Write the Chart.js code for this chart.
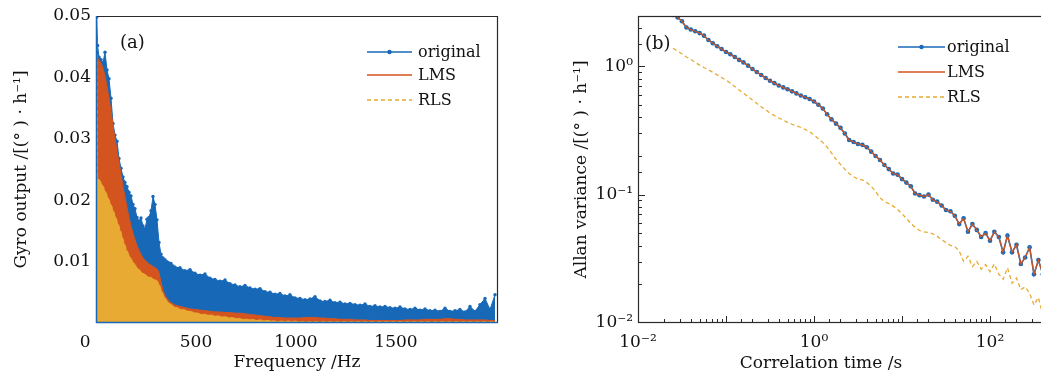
<!DOCTYPE html>
<html>
<head>
<meta charset="utf-8">
<title>Gyro output spectrum and Allan variance</title>
<script src="https://cdn.jsdelivr.net/npm/chart.js@4.4.1/dist/chart.umd.min.js"></script>
<style>
  html, body { margin: 0; padding: 0; background: #fff; overflow: hidden; }
  #wrap { position: relative; width: 1041px; height: 376px; overflow: hidden; }
  #spectrum { position: absolute; left: 0; top: 0; }
  #allan { position: absolute; left: 540px; top: 0; }
</style>
</head>
<body>
<div id="wrap">
  <canvas id="spectrum" width="520" height="376"></canvas>
  <canvas id="allan" width="550" height="376"></canvas>
</div>
<script>
// (a) spectrum: frequency axis (Hz) and envelope of each series
const freqHz = [3, 8, 15, 25, 35, 45, 55, 65, 75, 85, 95, 105, 115, 125, 135, 145, 155, 165, 175, 185,
  195, 205, 215, 225, 235, 245, 255, 265, 275, 285, 295, 305, 315, 325, 335, 345, 355, 365, 375, 385, 395,
  420, 445, 470, 495, 520, 545, 570, 595, 620, 645, 670, 695, 720, 745, 770, 795, 820, 845, 870, 895,
  920, 945, 970, 995, 1020, 1045, 1070, 1095, 1120, 1145, 1170, 1195, 1220, 1245, 1270, 1295, 1320, 1345, 1370, 1395,
  1420, 1445, 1470, 1495, 1520, 1545, 1570, 1595, 1620, 1645, 1670, 1695, 1720, 1745, 1770, 1795, 1820, 1845, 1870, 1895,
  1920, 1945, 1970, 1995];

const specOriginal = [0.0498, 0.0452, 0.0433, 0.0429, 0.0424, 0.0441, 0.0412, 0.0398, 0.0366, 0.0325, 0.0306, 0.0296, 0.0268, 0.0252, 0.0238, 0.0229, 0.0222, 0.0213, 0.0207, 0.0193,
  0.0186, 0.0172, 0.0166, 0.0171, 0.0158, 0.0153, 0.0169, 0.0172, 0.0183, 0.0206, 0.0193, 0.0168, 0.0131, 0.0112, 0.0106, 0.0103, 0.0100, 0.0098, 0.0097, 0.0093, 0.0091,
  0.0090, 0.0085, 0.0087, 0.0081, 0.0078, 0.0080, 0.0073, 0.0071, 0.0068, 0.0070, 0.0064, 0.0062, 0.0059, 0.0061, 0.0057, 0.0055, 0.0056, 0.0051, 0.0050, 0.0047,
  0.0048, 0.0044, 0.0046, 0.0041, 0.0040, 0.0038, 0.0039, 0.0043, 0.0036, 0.0035, 0.0037, 0.0033, 0.0034, 0.0031, 0.0032, 0.0030, 0.0029, 0.0031, 0.0027, 0.0028,
  0.0026, 0.0027, 0.0025, 0.0024, 0.0026, 0.0023, 0.0022, 0.0024, 0.0021, 0.0023, 0.0020, 0.0021, 0.0019, 0.0024, 0.0019, 0.0020, 0.0022, 0.0018, 0.0027, 0.0019,
  0.0030, 0.0040, 0.0022, 0.0046];

const specLms = [0.0435, 0.0432, 0.0428, 0.0424, 0.0415, 0.0402, 0.0385, 0.0366, 0.0345, 0.0322, 0.0300, 0.0281, 0.0262, 0.0242, 0.0222, 0.0205, 0.0188, 0.0172, 0.0158, 0.0146,
  0.0135, 0.0126, 0.0118, 0.0112, 0.0106, 0.0102, 0.0099, 0.0096, 0.0094, 0.0092, 0.0090, 0.0088, 0.0082, 0.0066, 0.0053, 0.0045, 0.0040, 0.0036, 0.0033, 0.0031, 0.0029,
  0.0027, 0.0025, 0.0023, 0.0022, 0.0021, 0.0020, 0.0019, 0.0018, 0.0018, 0.0017, 0.0017, 0.0016, 0.0016, 0.0015, 0.0014, 0.0013, 0.0012, 0.0011, 0.0010, 0.0009,
  0.0009, 0.0008, 0.0008, 0.0008, 0.0008, 0.0009, 0.0009, 0.0009, 0.0008, 0.0008, 0.0007, 0.0007, 0.0006, 0.0006, 0.0006, 0.0005, 0.0005, 0.0005, 0.0004, 0.0004,
  0.0004, 0.0004, 0.0004, 0.0004, 0.0004, 0.0005, 0.0005, 0.0005, 0.0005, 0.0006, 0.0006, 0.0006, 0.0006, 0.0007, 0.0007, 0.0006, 0.0006, 0.0005, 0.0005, 0.0005,
  0.0005, 0.0005, 0.0004, 0.0004];

const specRls = [0.0495, 0.0236, 0.0234, 0.0229, 0.0223, 0.0216, 0.0209, 0.0201, 0.0193, 0.0185, 0.0176, 0.0167, 0.0158, 0.0148, 0.0137, 0.0127, 0.0118, 0.0111, 0.0105, 0.0100,
  0.0095, 0.0091, 0.0087, 0.0084, 0.0081, 0.0079, 0.0077, 0.0075, 0.0074, 0.0072, 0.0071, 0.0069, 0.0064, 0.0055, 0.0047, 0.0041, 0.0036, 0.0033, 0.0030, 0.0028, 0.0026,
  0.0023, 0.0021, 0.0019, 0.0017, 0.0015, 0.0014, 0.0013, 0.0012, 0.0011, 0.0010, 0.0009, 0.0008, 0.0007, 0.0006, 0.0006, 0.0005, 0.0005, 0.0004, 0.0004, 0.0003,
  0.0003, 0.0003, 0.0003, 0.0003, 0.0002, 0.0002, 0.0002, 0.0002, 0.0002, 0.0002, 0.0002, 0.0002, 0.0002, 0.0002, 0.0002, 0.0002, 0.0002, 0.0002, 0.0002, 0.0002,
  0.0002, 0.0002, 0.0002, 0.0002, 0.0002, 0.0002, 0.0002, 0.0002, 0.0002, 0.0002, 0.0002, 0.0002, 0.0002, 0.0002, 0.0002, 0.0002, 0.0002, 0.0002, 0.0002, 0.0002,
  0.0002, 0.0002, 0.0002, 0.0002];

const freqTicks = [0, 500, 1000, 1500];

// (b) Allan variance: correlation time (s) and values
const tauS = [0.0251, 0.0282, 0.0316, 0.0355, 0.0398, 0.0447, 0.0501, 0.0562, 0.0631, 0.0708,
  0.0794, 0.0891, 0.100, 0.112, 0.126, 0.141, 0.158, 0.178, 0.200, 0.224,
  0.251, 0.282, 0.316, 0.355, 0.398, 0.447, 0.501, 0.562, 0.631, 0.708,
  0.794, 0.891, 1.00, 1.12, 1.26, 1.41, 1.58, 1.78, 2.00, 2.24,
  2.51, 2.82, 3.16, 3.55, 3.98, 4.47, 5.01, 5.62, 6.31, 7.08,
  7.94, 8.91, 10.0, 11.2, 12.6, 14.1, 15.8, 17.8, 20.0, 22.4,
  25.1, 28.2, 31.6, 35.5, 39.8, 44.7, 50.1, 56.2, 63.1, 70.8,
  79.4, 89.1, 100, 112, 126, 141, 158, 178, 200, 224,
  251, 282, 316, 355, 398];

const allanOriginal = [2.51, 2.40, 2.24, 2.00, 1.93, 1.87, 1.81, 1.73, 1.60, 1.51,
  1.43, 1.36, 1.29, 1.24, 1.18, 1.12, 1.07, 1.01, 0.95, 0.90,
  0.855, 0.81, 0.77, 0.738, 0.708, 0.684, 0.661, 0.637, 0.614, 0.592,
  0.573, 0.555, 0.531, 0.501, 0.468, 0.422, 0.385, 0.357, 0.331, 0.299,
  0.266, 0.257, 0.248, 0.244, 0.234, 0.216, 0.200, 0.186, 0.170, 0.158,
  0.146, 0.143, 0.132, 0.124, 0.116, 0.102, 0.099, 0.0966, 0.100, 0.0912,
  0.0881, 0.0822, 0.0759, 0.0741, 0.0684, 0.0589, 0.0653, 0.0513, 0.0589, 0.0531,
  0.0468, 0.0501, 0.0437, 0.0513, 0.0468, 0.0355, 0.0479, 0.0355, 0.0407, 0.0288,
  0.0324, 0.0389, 0.0240, 0.0309, 0.0240];

const allanLms = [2.51, 2.40, 2.24, 2.00, 1.93, 1.87, 1.81, 1.73, 1.60, 1.51,
  1.43, 1.36, 1.29, 1.24, 1.18, 1.12, 1.07, 1.01, 0.95, 0.90,
  0.855, 0.81, 0.77, 0.738, 0.708, 0.684, 0.661, 0.637, 0.614, 0.592,
  0.573, 0.555, 0.531, 0.501, 0.468, 0.422, 0.385, 0.357, 0.331, 0.299,
  0.266, 0.257, 0.248, 0.244, 0.234, 0.216, 0.200, 0.186, 0.170, 0.158,
  0.146, 0.143, 0.132, 0.124, 0.116, 0.102, 0.099, 0.0966, 0.100, 0.0912,
  0.0881, 0.0822, 0.0759, 0.0741, 0.0684, 0.0589, 0.0653, 0.0513, 0.0589, 0.0531,
  0.0468, 0.0501, 0.0437, 0.0513, 0.0468, 0.0355, 0.0479, 0.0355, 0.0407, 0.0288,
  0.0324, 0.0389, 0.0240, 0.0309, 0.0240];

const allanRls = [1.38, 1.31, 1.245, 1.18, 1.127, 1.07, 1.02, 0.977, 0.938, 0.897,
  0.855, 0.817, 0.780, 0.738, 0.695, 0.653, 0.617, 0.579, 0.546, 0.513,
  0.484, 0.457, 0.432, 0.412, 0.395, 0.380, 0.365, 0.353, 0.343, 0.333,
  0.322, 0.309, 0.292, 0.272, 0.254, 0.234, 0.211, 0.188, 0.172, 0.158,
  0.146, 0.138, 0.132, 0.130, 0.124, 0.116, 0.106, 0.0944, 0.0881, 0.0851,
  0.0813, 0.0767, 0.0708, 0.0653, 0.0596, 0.0556, 0.0525, 0.0513, 0.0507, 0.0495,
  0.0473, 0.0447, 0.0422, 0.0403, 0.0394, 0.0363, 0.0302, 0.0331, 0.0275, 0.0302,
  0.0263, 0.0285, 0.0251, 0.0288, 0.0240, 0.0219, 0.0269, 0.0204, 0.0224, 0.0182,
  0.0191, 0.0170, 0.0138, 0.0158, 0.0115];

const COLORS = {
  original: '#1769B8',
  lms: '#D4541F',
  rls: '#E8AA33',
  frame: '#2a2a2a',
  text: '#111'
};
const FONT = '"DejaVu Serif", "Liberation Serif", serif';
const SUP = { '-': '\u207B', '0': '\u2070', '1': '\u00B9', '2': '\u00B2', '3': '\u00B3' };

function toPoints(xs, ys) {
  return xs.map((x, i) => ({ x: x, y: ys[i] }));
}

function isDecade(v) {
  const e = Math.log10(v);
  return Math.abs(e - Math.round(e)) < 1e-6;
}

function powerLabel(v) {
  const e = String(Math.round(Math.log10(v)));
  return '10' + e.split('').map(c => SUP[c]).join('');
}

function strokeLine(ctx, x0, y0, x1, y1) {
  ctx.beginPath();
  ctx.moveTo(x0, y0);
  ctx.lineTo(x1, y1);
  ctx.stroke();
}

// legend drawn inside the plot area, styled from the datasets
function drawLegend(chart, o) {
  const { ctx, chartArea: a } = chart;
  ctx.save();
  ctx.font = '16px ' + FONT;
  ctx.textBaseline = 'middle';
  ctx.fillStyle = COLORS.text;
  chart.data.datasets.forEach((ds, i) => {
    const y = a.top + o.rows[i];
    const x0 = a.right - o.lineFrom;
    const x1 = a.right - o.lineTo;
    ctx.strokeStyle = ds.borderColor;
    ctx.lineWidth = 1.5;
    ctx.setLineDash(ds.borderDash || []);
    strokeLine(ctx, x0, y, x1, y);
    ctx.setLineDash([]);
    if (ds.legendMarker) {
      ctx.fillStyle = ds.borderColor;
      ctx.beginPath();
      ctx.arc((x0 + x1) / 2, y, 2.2, 0, Math.PI * 2);
      ctx.fill();
      ctx.fillStyle = COLORS.text;
    }
    ctx.fillText(ds.label, a.right - o.textAt, y + 1);
  });
  ctx.restore();
}

const spectrumPlugin = {
  id: 'spectrumDecor',
  afterDatasetsDraw(chart) {
    const { ctx, chartArea: a } = chart;
    ctx.save();
    ctx.lineWidth = 1.2;
    ctx.strokeStyle = COLORS.frame;
    strokeLine(ctx, a.left, a.top + 0.5, a.right, a.top + 0.5);
    strokeLine(ctx, a.right - 0.5, a.top, a.right - 0.5, a.bottom);
    ctx.strokeStyle = COLORS.original;
    ctx.lineWidth = 1.5;
    strokeLine(ctx, a.left + 0.5, a.top, a.left + 0.5, a.bottom);
    strokeLine(ctx, a.left, a.bottom - 0.5, a.right, a.bottom - 0.5);
    ctx.font = '18px ' + FONT;
    ctx.fillStyle = COLORS.text;
    ctx.textBaseline = 'middle';
    ctx.fillText('(a)', a.left + 24, a.top + 27);
    ctx.restore();
    drawLegend(chart, { rows: [36, 59, 84], lineFrom: 131, lineTo: 86, textAt: 80 });
  }
};

const allanPlugin = {
  id: 'allanDecor',
  afterDatasetsDraw(chart) {
    const { ctx, chartArea: a, scales } = chart;
    ctx.save();
    ctx.strokeStyle = COLORS.frame;
    ctx.lineWidth = 1.2;
    ctx.strokeRect(a.left + 0.5, a.top + 0.5, a.right - a.left - 1, a.bottom - a.top - 1);
    ctx.lineWidth = 1;
    scales.x.ticks.forEach(t => {
      const px = Math.round(scales.x.getPixelForValue(t.value)) + 0.5;
      if (px <= a.left + 1 || px >= a.right - 1) return;
      strokeLine(ctx, px, a.bottom, px, a.bottom - (isDecade(t.value) ? 7 : 4));
    });
    scales.y.ticks.forEach(t => {
      const py = Math.round(scales.y.getPixelForValue(t.value)) + 0.5;
      if (py <= a.top + 1 || py >= a.bottom - 1) return;
      strokeLine(ctx, a.left, py, a.left + (isDecade(t.value) ? 7 : 4), py);
    });
    ctx.font = '18px ' + FONT;
    ctx.fillStyle = COLORS.text;
    ctx.textBaseline = 'middle';
    ctx.fillText('(b)', a.left + 7, a.top + 28);
    // x title sits left of centre in the original figure
    ctx.font = '17px ' + FONT;
    ctx.textAlign = 'center';
    ctx.fillText('Correlation time /s', a.left + 183, 364);
    ctx.restore();
    drawLegend(chart, { rows: [31, 56, 81], lineFrom: 180, lineTo: 133, textAt: 131 });
  }
};

const tickFont = { family: FONT, size: 17 };
const titleFont = { family: FONT, size: 17 };

new Chart(document.getElementById('spectrum'), {
  type: 'line',
  data: {
    datasets: [{
      label: 'original',
      data: toPoints(freqHz, specOriginal),
      borderColor: COLORS.original,
      backgroundColor: COLORS.original,
      borderWidth: 1,
      pointRadius: 1.7,
      pointBorderWidth: 0,
      pointBackgroundColor: COLORS.original,
      fill: 'origin',
      legendMarker: true,
      order: 3
    }, {
      label: 'LMS',
      data: toPoints(freqHz, specLms),
      borderColor: COLORS.lms,
      backgroundColor: COLORS.lms,
      borderWidth: 1,
      pointRadius: 0,
      fill: 'origin',
      order: 2
    }, {
      label: 'RLS',
      data: toPoints(freqHz, specRls),
      borderColor: COLORS.rls,
      backgroundColor: COLORS.rls,
      borderWidth: 1,
      borderDash: [4, 3],
      pointRadius: 0,
      fill: 'origin',
      order: 1
    }]
  },
  options: {
    responsive: false,
    animation: false,
    devicePixelRatio: 1,
    layout: { padding: { left: 0, right: 22, top: 16, bottom: 0 } },
    plugins: { legend: { display: false }, tooltip: { enabled: false } },
    scales: {
      x: {
        type: 'linear',
        min: 0,
        max: 2010,
        border: { display: false },
        grid: { display: false, drawTicks: false },
        afterBuildTicks: s => { s.ticks = freqTicks.map(v => ({ value: v })); },
        afterFit: s => { s.height = 53; },
        ticks: {
          color: COLORS.text,
          font: tickFont,
          padding: 9,
          maxRotation: 0,
          autoSkip: false,
          // the zero label stands a little left of the axis in the original
          callback: v => (v === 0 ? '0    ' : String(v))
        },
        title: {
          display: true,
          text: 'Frequency /Hz',
          color: COLORS.text,
          font: titleFont,
          padding: { top: 0, bottom: 3 }
        }
      },
      y: {
        min: 0,
        max: 0.05,
        border: { display: false },
        grid: { display: false, drawTicks: false },
        afterFit: s => { s.width = 96; },
        ticks: {
          stepSize: 0.01,
          color: COLORS.text,
          font: tickFont,
          padding: 5,
          callback: v => (v === 0 ? '' : v.toFixed(2))
        },
        title: {
          display: true,
          text: 'Gyro output /[(\u00B0 ) \u00B7 h\u207B\u00B9]',
          color: COLORS.text,
          font: titleFont,
          padding: { top: 11, bottom: 0 }
        }
      }
    }
  },
  plugins: [spectrumPlugin]
});

new Chart(document.getElementById('allan'), {
  type: 'line',
  data: {
    datasets: [{
      label: 'original',
      data: toPoints(tauS, allanOriginal),
      borderColor: COLORS.original,
      borderWidth: 1.6,
      pointRadius: 2.3,
      pointBorderWidth: 0,
      pointBackgroundColor: COLORS.original,
      fill: false,
      clip: 0,
      legendMarker: true,
      order: 3
    }, {
      label: 'LMS',
      data: toPoints(tauS, allanLms),
      borderColor: COLORS.lms,
      borderWidth: 1.2,
      pointRadius: 0,
      fill: false,
      clip: 0,
      order: 2
    }, {
      label: 'RLS',
      data: toPoints(tauS, allanRls),
      borderColor: COLORS.rls,
      borderWidth: 1.3,
      borderDash: [4, 3],
      pointRadius: 0,
      fill: false,
      clip: 0,
      order: 1
    }]
  },
  options: {
    responsive: false,
    animation: false,
    devicePixelRatio: 1,
    layout: { padding: { left: 0, right: 12, top: 16, bottom: 0 } },
    plugins: { legend: { display: false }, tooltip: { enabled: false } },
    scales: {
      x: {
        type: 'logarithmic',
        min: 0.01,
        max: 1000,
        border: { display: false },
        grid: { display: false, drawTicks: false },
        afterFit: s => { s.height = 53; },
        ticks: {
          color: COLORS.text,
          font: tickFont,
          padding: 9,
          maxRotation: 0,
          autoSkip: false,
          callback: v => {
            if (!isDecade(v)) return '';
            const e = Math.round(Math.log10(v));
            return e % 2 === 0 && e < 3 ? powerLabel(v) : '';
          }
        }
      },
      y: {
        type: 'logarithmic',
        min: 0.01,
        max: 2.46,
        border: { display: false },
        grid: { display: false, drawTicks: false },
        afterFit: s => { s.width = 98; },
        ticks: {
          color: COLORS.text,
          font: tickFont,
          padding: 5,
          autoSkip: false,
          callback: v => (isDecade(v) ? powerLabel(v) : '')
        },
        title: {
          display: true,
          text: 'Allan variance /[(\u00B0 ) \u00B7 h\u207B\u00B9]',
          color: COLORS.text,
          font: titleFont,
          padding: { top: 31, bottom: 0 }
        }
      }
    }
  },
  plugins: [allanPlugin]
});
</script>
</body>
</html>
